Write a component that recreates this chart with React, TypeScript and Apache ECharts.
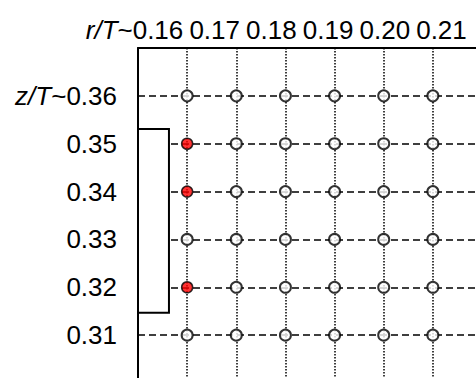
import React, { useEffect, useRef } from "react";
import * as echarts from "echarts";

// r/T values (columns) and z/T values (rows)
const rValues = [0.16, 0.17, 0.18, 0.19, 0.2, 0.21];
const zValues = [0.36, 0.35, 0.34, 0.33, 0.32, 0.31];
const rTickLabels = ["0.16", "0.17", "0.18", "0.19", "0.20", "0.21"];
const zTickLabels = ["0.36", "0.35", "0.34", "0.33", "0.32", "0.31"];
// highlighted (red) points: [r, z]
const redPoints = [
  [0.16, 0.35],
  [0.16, 0.34],
  [0.16, 0.32],
];
// box on the left: r range and z range
const boxR = [0.15, 0.1563];
const boxZ = [0.3147, 0.3531];

const FONT = "'Liberation Sans', Arial, sans-serif";
const FS = 26;

export default function App() {
  const ref = useRef<HTMLDivElement>(null);
  useEffect(() => {
    if (!ref.current) return;
    const chart = echarts.init(ref.current, null, { renderer: "svg" });
    const isRed = (r: number, z: number) =>
      redPoints.some((p) => Math.abs(p[0] - r) < 1e-6 && Math.abs(p[1] - z) < 1e-6);
    const whiteData: number[][] = [];
    const redData: number[][] = [];
    for (const z of zValues) {
      for (const r of rValues) {
        (isRed(r, z) ? redData : whiteData).push([r, z]);
      }
    }
    const labelIdx = (v: number, arr: number[]) =>
      arr.findIndex((a) => Math.abs(a - v) < 1e-6);

    chart.setOption({
      animation: false,
      grid: { left: 138, top: 48, width: 344, height: 335, containLabel: false },
      xAxis: [
        {
          type: "value",
          position: "top",
          min: 0.15,
          max: 0.22,
          interval: 0.01,
          axisLine: { show: true, onZero: false, lineStyle: { color: "#000", width: 2 } },
          axisTick: { show: false },
          axisLabel: { show: false },
          splitLine: {
            show: true,
            lineStyle: { color: "#000", width: 1.5, type: [1.5, 1.5] },
          },
        },
        {
          type: "value",
          position: "top",
          min: 0.152011,
          max: 0.212681,
          axisLine: { show: false },
          axisTick: { show: false },
          splitLine: { show: false },
          axisLabel: {
            show: true,
            customValues: rValues,
            align: "right",
            margin: 5,
            fontFamily: FONT,
            fontSize: FS,
            color: "#000",
            formatter: (v: number) => {
              const i = labelIdx(v, rValues);
              if (i < 0) return "";
              return i === 0 ? "{it|r/T}~" + rTickLabels[i] : rTickLabels[i];
            },
            rich: {
              it: { fontStyle: "italic", fontFamily: FONT, fontSize: FS, color: "#000" },
            },
          },
        },
      ],
      yAxis: {
        type: "value",
        min: 0.3,
        max: 0.37,
        interval: 0.01,
        axisLine: { show: true, onZero: false, lineStyle: { color: "#000", width: 2 } },
        axisTick: { show: false },
        splitLine: {
          show: true,
          lineStyle: { color: "#000", width: 1.5, type: [7, 4] },
        },
        axisLabel: {
          show: true,
          customValues: zValues,
          margin: 21,
          fontFamily: FONT,
          fontSize: FS,
          color: "#000",
          formatter: (v: number) => {
            const i = labelIdx(v, zValues);
            if (i < 0) return "";
            return i === 0 ? "{it|z/T}~" + zTickLabels[i] : zTickLabels[i];
          },
          rich: {
            it: { fontStyle: "italic", fontFamily: FONT, fontSize: FS, color: "#000" },
          },
        },
      },
      series: [
        {
          type: "scatter",
          xAxisIndex: 0,
          data: whiteData,
          symbol: "circle",
          symbolSize: 11,
          itemStyle: { color: "#fff", borderColor: "#000", borderWidth: 2 },
          markArea: {
            silent: true,
            itemStyle: { color: "#fff", borderColor: "#000", borderWidth: 2 },
            data: [[{ coord: [boxR[0], boxZ[1]] }, { coord: [boxR[1], boxZ[0]] }]],
          },
          z: 3,
        },
        {
          type: "scatter",
          xAxisIndex: 0,
          data: redData,
          symbol: "circle",
          symbolSize: 11,
          itemStyle: { color: "#ff0000", borderColor: "#000", borderWidth: 1.5 },
          z: 4,
        },
      ],
    });
    return () => chart.dispose();
  }, []);
  return (
    <div
      ref={ref}
      style={{ position: "fixed", left: 0, top: 0, width: 490, height: 392, background: "#fff" }}
    />
  );
}
